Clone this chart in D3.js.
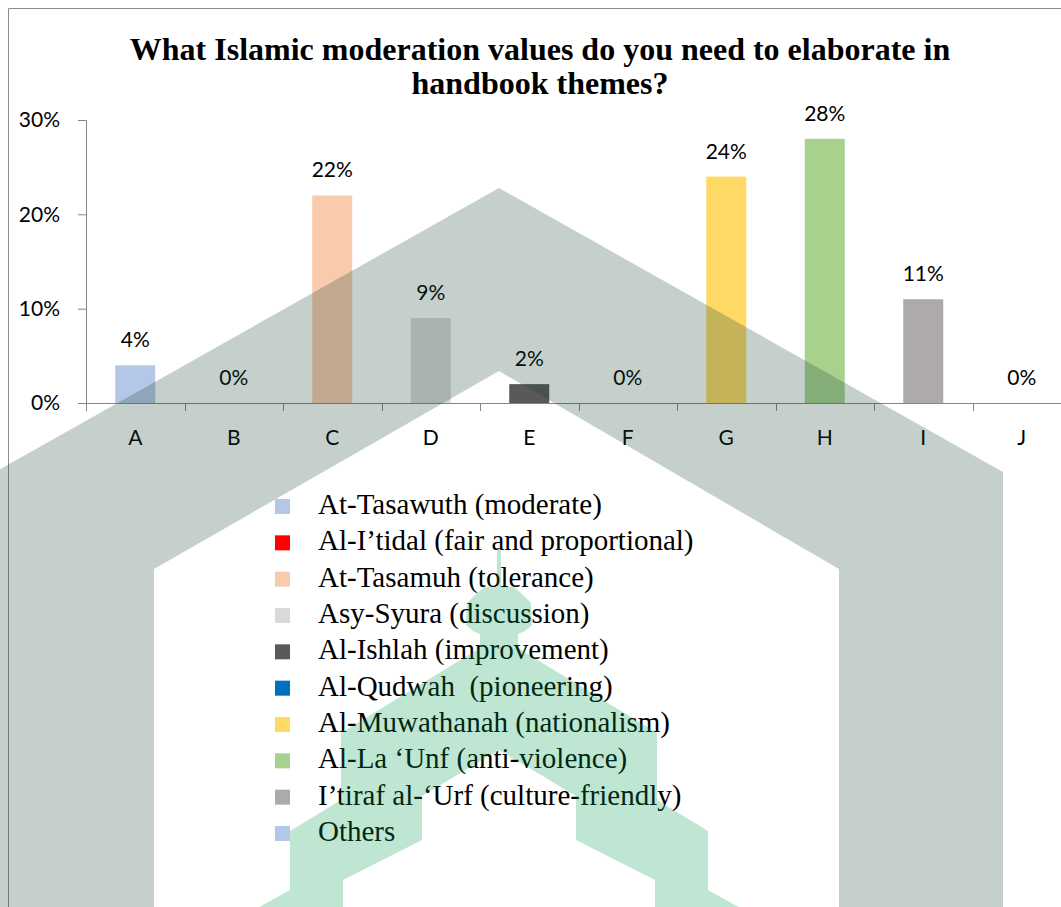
<!DOCTYPE html>
<html>
<head>
<meta charset="utf-8">
<script src="https://cdn.jsdelivr.net/npm/d3@7"></script>
<style>
body { margin: 0; background: #fff; }
svg { display: block; }
.axis text { font-family: Lato, sans-serif; font-size: 21px; fill: #000; }
.axis path, .axis line { stroke: #868686; }
.vlabel { font-family: Lato, sans-serif; font-size: 21px; fill: #000; }
.title { font-family: "Liberation Serif", "Times New Roman", serif; font-weight: bold; font-size: 32px; fill: #000; }
.legend text { font-family: "Liberation Serif", "Times New Roman", serif; font-size: 29px; fill: #000; white-space: pre; }
</style>
</head>
<body>
<script>
// chart data
var categories = ["A", "B", "C", "D", "E", "F", "G", "H", "I", "J"];
var values = [4, 0, 22, 9, 2, 0, 24, 28, 11, 0];
var yTicks = [0, 10, 20, 30];
var seriesNames = [
	"At-Tasawuth (moderate)",
	"Al-I\u2019tidal (fair and proportional)",
	"At-Tasamuh (tolerance)",
	"Asy-Syura (discussion)",
	"Al-Ishlah (improvement)",
	"Al-Qudwah  (pioneering)",
	"Al-Muwathanah (nationalism)",
	"Al-La \u2018Unf (anti-violence)",
	"I\u2019tiraf al-\u2018Urf (culture-friendly)",
	"Others"
];
var seriesColors = ["#b4c7e7", "#ff0000", "#f8cbad", "#d9d9d9", "#595959", "#0070c0", "#ffd966", "#a9d18e", "#aeaaaa", "#b4c7e7"];
var titleLines = ["What Islamic moderation values do you need to elaborate in", "handbook themes?"];

var width = 1061, height = 907;
var plot = {left: 86, right: 1071, top: 120, bottom: 403};

var svg = d3.select("body").append("svg")
	.attr("width", width)
	.attr("height", height);

// frame
svg.append("path")
	.attr("d", "M8.5," + height + "V8.5H" + width)
	.attr("fill", "none")
	.attr("stroke", "#8c8c8c");

// title
svg.append("text")
	.attr("class", "title")
	.attr("text-anchor", "middle")
	.selectAll("tspan")
	.data(titleLines)
	.enter().append("tspan")
	.attr("x", 540)
	.attr("y", function(d, i) { return 60 + i * 34; })
	.text(function(d) { return d; });

var x = d3.scaleBand()
	.domain(categories)
	.range([plot.left, plot.right])
	.padding(0);
var barW = x.bandwidth() * 0.406;

var y = d3.scaleLinear()
	.domain([0, 30])
	.range([plot.bottom, plot.top]);

svg.append("g")
	.attr("class", "axis axis--y")
	.attr("transform", "translate(" + plot.left + ",0)")
	.call(d3.axisLeft(y).tickValues(yTicks).tickFormat(function(d) { return d + "%"; })
		.tickSize(8).tickPadding(18).tickSizeOuter(0));

// bars
svg.selectAll(".bar")
	.data(categories)
	.enter().append("rect")
	.attr("class", "bar")
	.attr("x", function(d) { return x(d) + (x.bandwidth() - barW) / 2; })
	.attr("y", function(d, i) { return y(values[i]); })
	.attr("width", barW)
	.attr("height", function(d, i) { return y(0) - y(values[i]); })
	.attr("fill", function(d, i) { return seriesColors[i]; });

var xAxis = svg.append("g")
	.attr("class", "axis axis--x")
	.attr("transform", "translate(0," + plot.bottom + ")")
	.call(d3.axisBottom(x).tickSize(0).tickPadding(27).tickSizeOuter(0));

// category boundary ticks
xAxis.selectAll(".bound")
	.data(categories.map(function(d) { return x(d); }).concat([x.range()[1]]))
	.enter().append("line")
	.attr("class", "bound")
	.attr("x1", function(d) { return Math.round(d) + 0.5; })
	.attr("x2", function(d) { return Math.round(d) + 0.5; })
	.attr("y1", 0)
	.attr("y2", 8);

// value labels
svg.selectAll(".vlabel")
	.data(categories)
	.enter().append("text")
	.attr("class", "vlabel")
	.attr("text-anchor", "middle")
	.attr("x", function(d) { return x(d) + x.bandwidth() / 2; })
	.attr("y", function(d, i) { return y(values[i]) - 18; })
	.text(function(d, i) { return values[i] + "%"; });

// legend
var ly = d3.scalePoint().domain(seriesNames).range([504, 831]);
var legend = svg.append("g").attr("class", "legend");
var item = legend.selectAll("g")
	.data(seriesNames)
	.enter().append("g")
	.attr("transform", function(d) { return "translate(0," + ly(d) + ")"; });
item.append("rect")
	.attr("x", 275)
	.attr("y", -5)
	.attr("width", 15)
	.attr("height", 15)
	.attr("fill", function(d, i) { return seriesColors[i]; });
item.append("text")
	.attr("x", 318)
	.attr("dy", "0.35em")
	.text(function(d) { return d; });

// watermark (translucent, drawn over the chart)
var wmCx = 499;
var wmOuter = [[499,188],[1003,472],[1003,910],[839,910],[839,569],[499,371],[154,569],[154,910],[-5,910],[-5,472]];
var wmHalf = [[2,550],[2,587],[15,587],[24,595],[32,603],[33,625],[26,631],[19,634],[19,648],[158,733],[158,800],[209,831],[209,890],[245,910]];
var wmInner = [[156,910],[156,880],[77,840],[77,796]];
var wmTower = wmHalf.concat(wmInner, [[0,750]],
	wmInner.slice().reverse().map(function(p) { return [-p[0], p[1]]; }),
	wmHalf.slice().reverse().map(function(p) { return [-p[0], p[1]]; }))
	.map(function(p) { return [wmCx + p[0], p[1]]; });

var wm = svg.append("g").attr("pointer-events", "none").attr("fill-opacity", 0.25);
wm.append("path").attr("d", "M" + wmOuter.join("L") + "Z").attr("fill", "rgb(23,67,51)");
wm.append("path").attr("d", "M" + wmTower.join("L") + "Z").attr("fill", "rgb(0,155,79)");
</script>
</body>
</html>
